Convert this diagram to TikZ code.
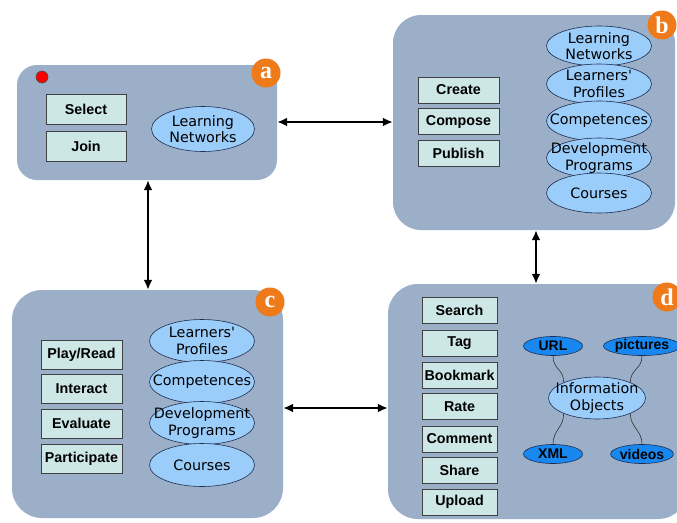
\documentclass[tikz,border=0pt]{standalone}
\usepackage{fontspec}
\usetikzlibrary{shapes.geometric,arrows.meta}
\newfontfamily\boxfont{Liberation Sans}
\newfontfamily\ellfont{DejaVu Sans}
\newfontfamily\badgefont{Liberation Serif}
\definecolor{panelfill}{RGB}{155,175,200}
\definecolor{boxfill}{RGB}{205,230,230}
\definecolor{ellfill}{RGB}{155,205,250}
\definecolor{elldark}{RGB}{25,135,240}
\definecolor{ellline}{RGB}{30,45,80}
\definecolor{badgeorange}{RGB}{238,122,26}
\tikzset{
  panel/.style={draw=none,fill=panelfill,rectangle,inner sep=0pt},
  actbox/.style={draw=black!75,line width=0.8pt,fill=boxfill,rectangle,inner sep=0pt,
     font=\boxfont\bfseries\fontsize{14.3}{15}\selectfont},
  ellshape/.style={draw=ellline,line width=0.6pt,fill=ellfill,ellipse,inner sep=0pt},
  elltext/.style={font=\ellfont\fontsize{14.3}{16.5}\selectfont,align=center,inner sep=0pt},
  darkell/.style={draw=ellline,line width=0.6pt,fill=elldark,ellipse,inner sep=0pt,
     minimum width=59pt,minimum height=19pt,font=\boxfont\bfseries\fontsize{14}{15}\selectfont},
  badge/.style={circle,fill=badgeorange,minimum size=29pt,inner sep=0pt,text=white,
     font=\badgefont\bfseries\fontsize{24}{24}\selectfont},
  arr/.style={line width=2.4pt,{Latex[length=10pt,width=9pt]}-{Latex[length=10pt,width=9pt]}},
  wire/.style={draw=black!80,line width=0.6pt}
}
\begin{document}
\begin{tikzpicture}[x=1pt,y=-1pt]
\useasboundingbox (0,0) rectangle (677,522);
\fill[white] (0,0) rectangle (677,522);
% panels
\node[panel,rounded corners=20pt,minimum width=260pt,minimum height=115pt] (pa) at (147,122.5) {};
\node[panel,rounded corners=28pt,minimum width=282pt,minimum height=215pt] (pb) at (534,122.5) {};
\node[panel,rounded corners=30pt,minimum width=271pt,minimum height=228pt] (pc) at (147.5,404) {};
\node[panel,rounded corners=30pt,minimum width=300pt,minimum height=235pt] (pd) at (538,401.5) {};
% badges
\node[badge] (ba) at (266,73) {a};
\node[badge] (bb) at (662,25) {b};
\node[badge] (bc) at (270,302) {c};
\node[badge] (bd) at (667,297) {d};
% red dot
\node[circle,fill=red,draw=black!70,line width=0.6pt,minimum size=12pt,inner sep=0pt] (dot) at (42,77) {};
% panel a
\node[actbox,minimum width=80pt,minimum height=30pt] (sel) at (86,109) {Select};
\node[actbox,minimum width=80pt,minimum height=30pt] (join) at (86,146) {Join};
\node[ellshape,minimum width=103pt,minimum height=45pt] (aln) at (203,129) {};
\node[elltext] (alnt) at (aln) {Learning\\Networks};
% panel b
\node[actbox,minimum width=81pt,minimum height=26pt] (create) at (458.5,90) {Create};
\node[actbox,minimum width=81pt,minimum height=26pt] (compose) at (458.5,121.5) {Compose};
\node[actbox,minimum width=81pt,minimum height=26pt] (publish) at (458.5,153) {Publish};
\node[ellshape,minimum width=105pt,minimum height=40pt] (b1) at (599,46) {};
\node[ellshape,minimum width=105pt,minimum height=40pt] (b2) at (599,84) {};
\node[ellshape,minimum width=105pt,minimum height=40pt] (b3) at (599,121) {};
\node[ellshape,minimum width=105pt,minimum height=40pt] (b4) at (599,158) {};
\node[ellshape,minimum width=105pt,minimum height=40pt] (b5) at (599,193) {};
\node[elltext] (b1t) at (b1) {Learning\\Networks};
\node[elltext] (b2t) at (b2) {Learners'\\Profiles};
\node[elltext] (b3t) at (b3) {Competences};
\node[elltext] (b4t) at (b4) {Development\\Programs};
\node[elltext] (b5t) at (b5) {Courses};
% panel c
\node[actbox,minimum width=81pt,minimum height=29pt] (play) at (81.5,354.5) {Play/Read};
\node[actbox,minimum width=81pt,minimum height=29pt] (interact) at (81.5,388.5) {Interact};
\node[actbox,minimum width=81pt,minimum height=29pt] (evaluate) at (81.5,423.5) {Evaluate};
\node[actbox,minimum width=81pt,minimum height=29pt] (particip) at (81.5,458.5) {Participate};
\node[ellshape,minimum width=105pt,minimum height=43pt] (c1) at (202,341) {};
\node[ellshape,minimum width=105pt,minimum height=43pt] (c2) at (202,382) {};
\node[ellshape,minimum width=105pt,minimum height=43pt] (c3) at (202,423) {};
\node[ellshape,minimum width=105pt,minimum height=43pt] (c4) at (202,465) {};
\node[elltext] (c1t) at (c1) {Learners'\\Profiles};
\node[elltext] (c2t) at (c2) {Competences};
\node[elltext] (c3t) at (c3) {Development\\Programs};
\node[elltext] (c4t) at (c4) {Courses};
% panel d
\node[actbox,minimum width=75pt,minimum height=26pt] (search) at (459.5,310.5) {Search};
\node[actbox,minimum width=75pt,minimum height=26pt] (tag) at (459.5,343) {Tag};
\node[actbox,minimum width=75pt,minimum height=26pt] (bookmark) at (459.5,375) {Bookmark};
\node[actbox,minimum width=75pt,minimum height=26pt] (rate) at (459.5,406.5) {Rate};
\node[actbox,minimum width=75pt,minimum height=26pt] (comment) at (459.5,439) {Comment};
\node[actbox,minimum width=75pt,minimum height=26pt] (share) at (459.5,470) {Share};
\node[actbox,minimum width=75pt,minimum height=26pt] (upload) at (459.5,502) {Upload};
\node[ellshape,minimum width=97pt,minimum height=42pt] (io) at (597,398) {};
\node[elltext] (iot) at (io) {Information\\Objects};
\node[darkell] (url) at (553,346) {URL};
\node[darkell] (pic) at (642,346) {pictures};
\node[darkell] (xml) at (553,454) {XML};
\node[darkell] (vid) at (642,454) {videos};
\draw[wire] (url.south) .. controls +(0,14) and +(0,-14) .. (io.155);
\draw[wire] (pic.south) .. controls +(0,14) and +(0,-14) .. (io.25);
\draw[wire] (xml.north) .. controls +(0,-14) and +(0,14) .. (io.205);
\draw[wire] (vid.north) .. controls +(0,-14) and +(0,14) .. (io.335);
% arrows between panels
\coordinate (ab) at (0,122);
\coordinate (ac) at (148,0);
\coordinate (bd) at (536,0);
\coordinate (cd) at (0,408);
\draw[arr] (pa.east |- ab) -- (pb.west |- ab);
\draw[arr] (pa.south -| ac) -- (pc.north -| ac);
\draw[arr] (pb.south -| bd) -- (pd.north -| bd);
\draw[arr] (pc.east |- cd) -- (pd.west |- cd);
\end{tikzpicture}
\end{document}
